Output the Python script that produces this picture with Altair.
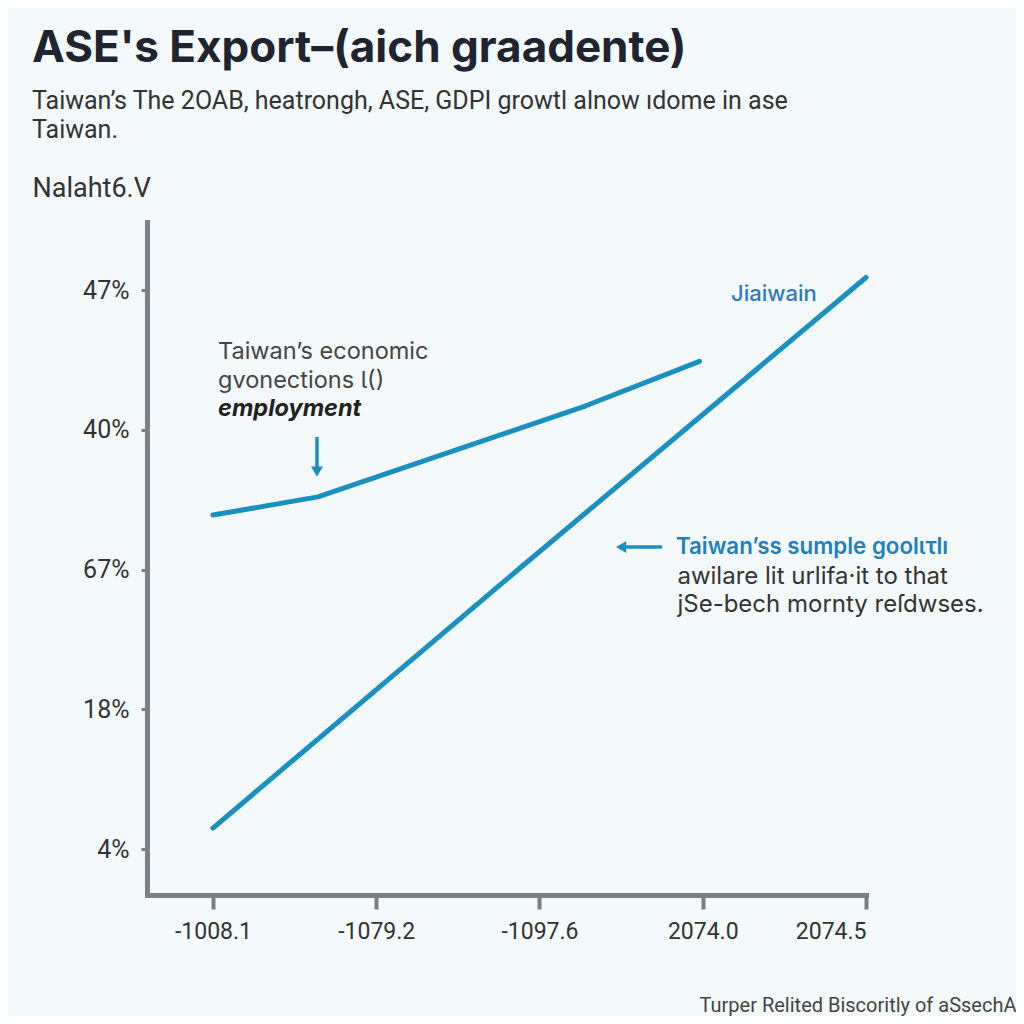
import altair as alt
import pandas as pd

# ---- data ----
x_tick_labels = ["-1008.1", "-1079.2", "-1097.6", "2074.0", "2074.5"]
y_tick_labels = ["4%", "18%", "67%", "40%", "47%"]

upper_x = [0.0, 0.643, 2.28, 2.98]
upper_y = [2.39, 2.52, 3.17, 3.49]

lower_x = [0.0, 1.89, 4.0]
lower_y = [0.15, 2.02, 4.09]

note1_lines = ["Taiwan\u2019s economic", "gvonections \u0196()"]
note1_bold = ["employment"]
note2_head = ["Taiwan\u2019ss sumple goolɩτlı"]
note2_lines = ["awilare lit urlifa\u00b7it to that", "jSe-bech mornty re\u017fdwses."]
series_label = ["Jiaiwain"]

BLUE = "#1a8fc2"
BG = "#f4f9fc"

upper = pd.DataFrame({"x": upper_x, "y": upper_y})
lower = pd.DataFrame({"x": lower_x, "y": lower_y})

xs = alt.Scale(domain=[-0.404, 4.0], nice=False, zero=False)
ys = alt.Scale(domain=[-0.329, 4.487], nice=False, zero=False)

x_enc = alt.X("x:Q", scale=xs, axis=alt.Axis(
    values=[0, 1, 2, 3, 4],
    labelExpr="['" + "','".join(x_tick_labels) + "'][datum.value]",
    title="Turper Relited Biscoritly of aSsechA",
    titleX=869, titleY=110, titleAlign="right", titleAnchor="end",
    titleFontSize=20, titleFontWeight="normal", titleColor="#444444",
    titleFont="Roboto", titleBaseline="middle",
    tickSize=14, tickWidth=4, labelPadding=11, labelFontSize=23,
))
y_enc = alt.Y("y:Q", scale=ys, axis=alt.Axis(
    values=[0, 1, 2, 3, 4],
    labelExpr="['" + "','".join(y_tick_labels) + "'][datum.value]",
    title="Nalaht6.V", titleAngle=0, titleX=-115, titleY=-34,
    titleAlign="left", titleAnchor="start", titleBaseline="middle",
    titleFontSize=27, titleFontWeight="normal", titleColor="#333333",
    titleFont="Roboto",
    tickSize=6, tickWidth=3, labelPadding=12, labelFontSize=25,
))

l_upper = alt.Chart(upper).mark_line(color=BLUE, strokeWidth=5, strokeCap="round",
                                     strokeJoin="round").encode(x=x_enc, y=y_enc)
l_lower = alt.Chart(lower).mark_line(color=BLUE, strokeWidth=5, strokeCap="round",
                                     strokeJoin="round").encode(x="x:Q", y="y:Q")

n1 = pd.DataFrame({"x": [0.031, 0.031], "y": [3.556, 3.349], "t": note1_lines})
n1b = pd.DataFrame({"x": [0.031], "y": [3.149], "t": note1_bold})
n2h = pd.DataFrame({"x": [2.836], "y": [2.161], "t": note2_head})
n2 = pd.DataFrame({"x": [2.845, 2.845], "y": [1.946, 1.746], "t": note2_lines})
sl = pd.DataFrame({"x": [3.436], "y": [3.971], "t": series_label})

t1 = alt.Chart(n1).mark_text(align="left", baseline="middle", fontSize=23.5,
                             font="Inter", color="#444444").encode(x="x:Q", y="y:Q", text="t:N")
t1b = alt.Chart(n1b).mark_text(align="left", baseline="middle", fontSize=23.5,
                               font="Inter", fontStyle="italic", fontWeight="bold",
                               color="#222222").encode(x="x:Q", y="y:Q", text="t:N")
t2h = alt.Chart(n2h).mark_text(align="left", baseline="middle", fontSize=22.3,
                               font="Inter", fontWeight=600,
                               color="#1f7fbf").encode(x="x:Q", y="y:Q", text="t:N")
t2 = alt.Chart(n2).mark_text(align="left", baseline="middle", fontSize=24,
                             font="Inter", color="#333333").encode(x="x:Q", y="y:Q", text="t:N")
tsl = alt.Chart(sl).mark_text(align="center", baseline="middle", fontSize=22,
                              font="Inter", fontWeight=500,
                              color="#2b7bbf").encode(x="x:Q", y="y:Q", text="t:N")

# arrows
down_rule = pd.DataFrame({"x": [0.637], "y": [2.948], "y2": [2.73]})
down_head = pd.DataFrame({"x": [0.637], "y": [2.70]})
left_rule = pd.DataFrame({"x": [2.750], "x2": [2.53], "y": [2.161]})
left_head = pd.DataFrame({"x": [2.50], "y": [2.161]})

a1 = alt.Chart(down_rule).mark_rule(color=BLUE, strokeWidth=3.5).encode(x="x:Q", y="y:Q", y2="y2:Q")
a1h = alt.Chart(down_head).mark_point(shape="triangle-down", filled=True, size=140,
                                      color=BLUE, opacity=1).encode(x="x:Q", y="y:Q")
a2 = alt.Chart(left_rule).mark_rule(color=BLUE, strokeWidth=3.5).encode(x="x:Q", x2="x2:Q", y="y:Q")
a2h = alt.Chart(left_head).mark_point(shape="triangle-left", filled=True, size=140,
                                      color=BLUE, opacity=1).encode(x="x:Q", y="y:Q")

chart = alt.layer(l_upper, l_lower, t1, t1b, t2h, t2, tsl, a1, a1h, a2, a2h).properties(
    width=719, height=673,
    autosize=alt.AutoSizeParams(type="none"),
    padding={"left": 139, "top": 214, "right": 150, "bottom": 121},
    background=BG,
    title=alt.TitleParams(
        text="ASE's Export\u2013(aich graadente)",
        subtitle=["Taiwan\u2019s The 2OAB, heatrongh, ASE, GDPI growtl alnow \u0131dome in ase",
                  "Taiwan."],
        anchor="start", frame="group", dx=-115, dy=-27,
        font="Inter", fontSize=44, fontWeight="bold", color="#1f2430",
        subtitleFont="Roboto", subtitleFontSize=25, subtitleColor="#333333",
        subtitleLineHeight=29, subtitlePadding=18,
    ),
).configure_view(stroke=None).configure_axis(
    grid=False, domainColor="#7d7f87", domainWidth=5, domainCap="square",
    tickColor="#7d7f87", labelColor="#333333", labelFont="Roboto",
)

chart.save("out.html", embed_options={"renderer": "svg", "actions": False})
